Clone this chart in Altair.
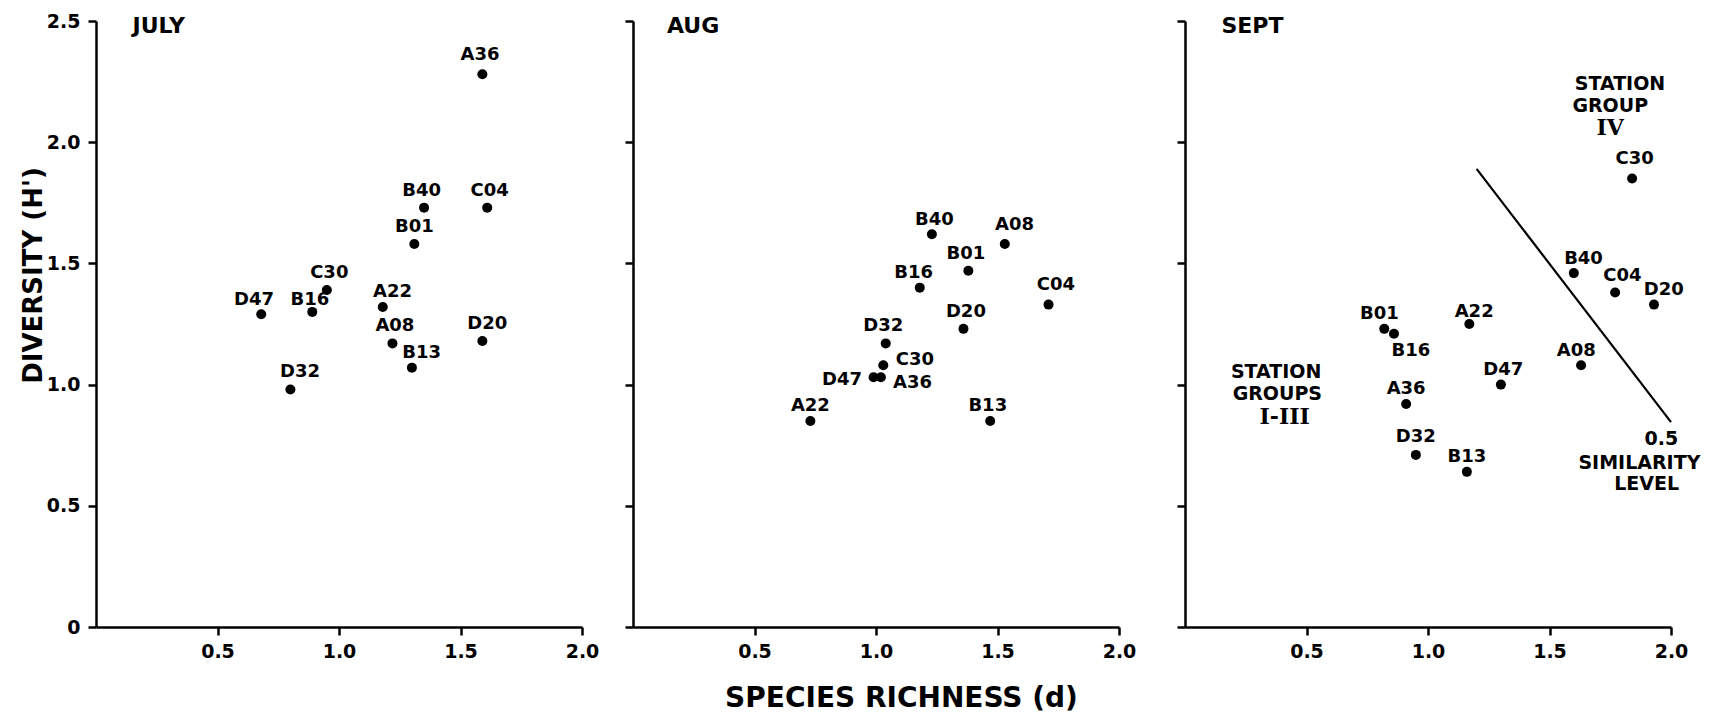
import altair as alt
import pandas as pd

# ---------------- data ----------------
months = ["JULY", "AUG", "SEPT"]
month_title_x = [0.15, 0.14, 0.15]
month_title_y = [2.48, 2.48, 2.48]

jul_station = ["A36", "B40", "C04", "B01", "C30", "A22", "D47", "B16", "A08", "D20", "B13", "D32"]
jul_richness = [1.59, 1.35, 1.61, 1.31, 0.95, 1.18, 0.68, 0.89, 1.22, 1.59, 1.30, 0.80]
jul_diversity = [2.28, 1.73, 1.73, 1.58, 1.39, 1.32, 1.29, 1.30, 1.17, 1.18, 1.07, 0.98]
jul_label_x = [1.58, 1.34, 1.62, 1.31, 0.96, 1.22, 0.65, 0.88, 1.23, 1.61, 1.34, 0.84]
jul_label_y = [2.36, 1.80, 1.80, 1.65, 1.46, 1.38, 1.35, 1.35, 1.24, 1.25, 1.13, 1.05]

aug_station = ["B40", "A08", "B01", "B16", "C04", "D20", "D32", "C30", "D47", "A36", "A22", "B13"]
aug_richness = [1.23, 1.53, 1.38, 1.18, 1.71, 1.36, 1.04, 1.03, 0.99, 1.02, 0.73, 1.47]
aug_diversity = [1.62, 1.58, 1.47, 1.40, 1.33, 1.23, 1.17, 1.08, 1.03, 1.03, 0.85, 0.85]
aug_label_x = [1.24, 1.57, 1.37, 1.155, 1.74, 1.37, 1.03, 1.16, 0.86, 1.15, 0.73, 1.46]
aug_label_y = [1.68, 1.66, 1.54, 1.46, 1.41, 1.30, 1.24, 1.10, 1.02, 1.005, 0.91, 0.91]

sep_station = ["C30", "B40", "C04", "D20", "B01", "B16", "A22", "A08", "D47", "A36", "D32", "B13"]
sep_richness = [1.84, 1.60, 1.77, 1.93, 0.82, 0.86, 1.17, 1.63, 1.30, 0.91, 0.95, 1.16]
sep_diversity = [1.85, 1.46, 1.38, 1.33, 1.23, 1.21, 1.25, 1.08, 1.00, 0.92, 0.71, 0.64]
sep_label_x = [1.85, 1.64, 1.80, 1.97, 0.80, 0.93, 1.19, 1.61, 1.31, 0.91, 0.95, 1.16]
sep_label_y = [1.93, 1.52, 1.45, 1.39, 1.29, 1.14, 1.30, 1.14, 1.06, 0.98, 0.785, 0.70]

# similarity-level line (Sept)
sim_line_x = [1.20, 2.00]
sim_line_y = [1.89, 0.845]

# Sept annotations
note_text = ["STATION", "GROUP", "STATION", "GROUPS", "0.5", "SIMILARITY", "LEVEL"]
note_x = [1.79, 1.75, 0.375, 0.38, 1.96, 1.87, 1.90]
note_y = [2.24, 2.15, 1.05, 0.96, 0.775, 0.675, 0.59]
roman_text = ["IV", "I-III"]
roman_x = [1.75, 0.41]
roman_y = [2.06, 0.865]

x_ticks = [0.5, 1.0, 1.5, 2.0]
y_ticks = [0, 0.5, 1.0, 1.5, 2.0, 2.5]

# ---------------- chart ----------------
W, H = 486, 606
FONT = "DejaVu Sans"

xscale = alt.Scale(domain=[0, 2], nice=False, zero=True)
yscale = alt.Scale(domain=[0, 2.5], nice=False, zero=True)


def x_axis(title=None):
    kw = dict(values=x_ticks, format=".1f", labelPadding=7, grid=False, labelFlush=False)
    if title:
        kw.update(title=title, titleX=268, titleY=71, titleAlign="center",
                  titleBaseline="middle", titleFontSize=28)
    else:
        kw.update(title=None)
    return alt.Axis(**kw)


def y_axis(first):
    if first:
        return alt.Axis(values=y_ticks, labelPadding=8, grid=False, labelFlush=False,
                        labelExpr="datum.value == 0 ? '0' : format(datum.value, '.1f')",
                        title="DIVERSITY (H')", titleX=-63, titleY=254, titleAngle=270,
                        titleAlign="center", titleBaseline="middle", titleFontSize=26)
    return alt.Axis(values=y_ticks, labels=False, title=None, grid=False)


def panel(i, stations, xs, ys, lxs, lys, extra=None, xtitle=None):
    pts = pd.DataFrame({"station": stations, "x": xs, "y": ys, "lx": lxs, "ly": lys})
    xa = x_axis(xtitle)
    ya = y_axis(i == 0)
    dots = alt.Chart(pts).mark_circle(size=100, color="black", opacity=1).encode(
        x=alt.X("x:Q", scale=xscale, axis=xa),
        y=alt.Y("y:Q", scale=yscale, axis=ya),
    )
    labels = alt.Chart(pts).mark_text(font=FONT, fontWeight="bold", fontSize=18,
                                      color="black", align="center", baseline="middle").encode(
        x=alt.X("lx:Q", scale=xscale, axis=xa),
        y=alt.Y("ly:Q", scale=yscale, axis=ya),
        text="station:N",
    )
    tdf = pd.DataFrame({"t": [months[i]], "x": [month_title_x[i]], "y": [month_title_y[i]]})
    title = alt.Chart(tdf).mark_text(font=FONT, fontWeight="bold", fontSize=22, color="black",
                                     align="left", baseline="middle").encode(
        x=alt.X("x:Q", scale=xscale, axis=xa),
        y=alt.Y("y:Q", scale=yscale, axis=ya),
        text="t:N",
    )
    layers = [dots, labels, title]
    if extra:
        layers += [e(xa, ya) for e in extra]
    return alt.layer(*layers).properties(width=W, height=H)


def sim_line(xa, ya):
    df = pd.DataFrame({"x": sim_line_x, "y": sim_line_y})
    return alt.Chart(df).mark_line(color="black", strokeWidth=2.2).encode(
        x=alt.X("x:Q", scale=xscale, axis=xa),
        y=alt.Y("y:Q", scale=yscale, axis=ya),
    )


def notes(xa, ya):
    df = pd.DataFrame({"t": note_text, "x": note_x, "y": note_y})
    return alt.Chart(df).mark_text(font=FONT, fontWeight="bold", fontSize=19, color="black",
                                   align="center", baseline="middle").encode(
        x=alt.X("x:Q", scale=xscale, axis=xa),
        y=alt.Y("y:Q", scale=yscale, axis=ya),
        text="t:N",
    )


def romans(xa, ya):
    df = pd.DataFrame({"t": roman_text, "x": roman_x, "y": roman_y})
    return alt.Chart(df).mark_text(font="DejaVu Serif", fontWeight="bold", fontSize=22,
                                   color="black", align="center", baseline="middle").encode(
        x=alt.X("x:Q", scale=xscale, axis=xa),
        y=alt.Y("y:Q", scale=yscale, axis=ya),
        text="t:N",
    )


p1 = panel(0, jul_station, jul_richness, jul_diversity, jul_label_x, jul_label_y)
p2 = panel(1, aug_station, aug_richness, aug_diversity, aug_label_x, aug_label_y,
           xtitle="SPECIES RICHNESS (d)")
p3 = panel(2, sep_station, sep_richness, sep_diversity, sep_label_x, sep_label_y,
           extra=[sim_line, notes, romans])

chart = alt.hconcat(alt.hconcat(p1, p2, spacing=24), p3, spacing=39).properties(
    padding={"left": 20, "top": 12, "right": 0, "bottom": 0},
    background="white",
).configure_axis(
    domainColor="black", domainWidth=2.5, tickColor="black", tickWidth=2.5, tickSize=8,
    labelColor="black", labelFont=FONT, labelFontSize=19, labelFontWeight="bold",
    titleColor="black", titleFont=FONT, titleFontWeight="bold",
).configure_view(stroke=None)

chart.save("out.html", embed_options={"renderer": "svg", "actions": False})
